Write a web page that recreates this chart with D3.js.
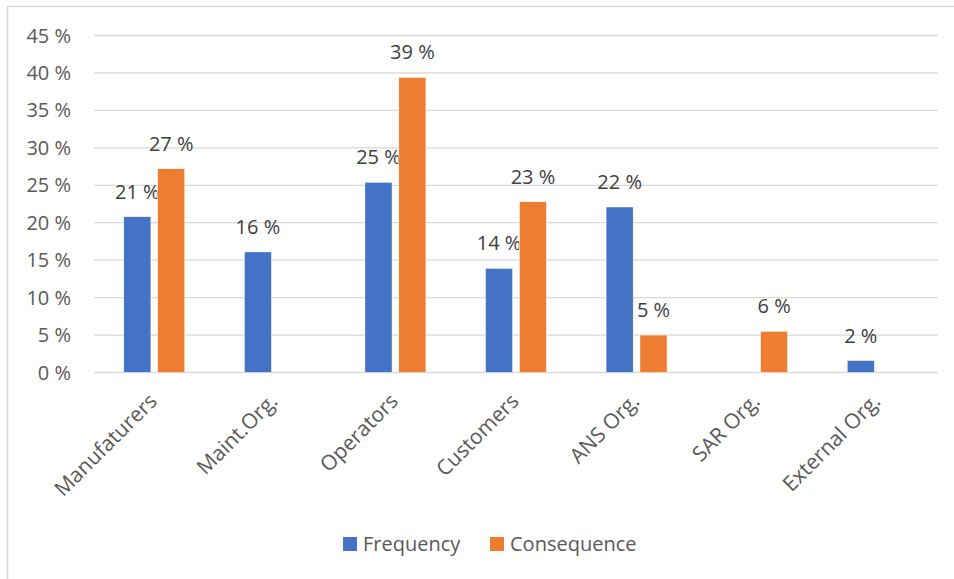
<!DOCTYPE html>
<html>
<head>
<meta charset="utf-8">
<script src="https://cdn.jsdelivr.net/npm/d3@7"></script>
<style>
  body { margin: 0; background: #fff; }
  svg text { font-family: "Open Sans", "Liberation Sans", sans-serif; }
</style>
</head>
<body>
<svg id="chart" width="954" height="579"></svg>
<script>
// data
const categories = ["Manufaturers", "Maint.Org.", "Operators", "Customers", "ANS Org.", "SAR Org.", "External Org."];
const seriesNames = ["Frequency", "Consequence"];
const frequency = [20.8, 16.1, 25.4, 13.9, 22.1, 0, 1.6];
const consequence = [27.2, 0, 39.4, 22.8, 5.0, 5.5, 0];
const yTicks = [0, 5, 10, 15, 20, 25, 30, 35, 40, 45];
const colors = ["#4472C4", "#ED7D31"];

const svg = d3.select("#chart");

// chart area frame
svg.append("rect")
  .attr("x", 7.5).attr("y", 6.5)
  .attr("width", 980).attr("height", 600)
  .attr("fill", "#fff").attr("stroke", "#d9d9d9").attr("stroke-width", 1.5);

const plot = { left: 94, right: 938, top: 35.5, bottom: 372.5 };

const x = d3.scaleBand().domain(categories).range([plot.left, plot.right]);
const y = d3.scaleLinear().domain([0, 45]).range([plot.bottom, plot.top]);
const xs = d3.scaleBand().domain(seriesNames).range([x.bandwidth() / 2 - 30.5, x.bandwidth() / 2 + 30.5]).paddingInner(0.2);

// gridlines
svg.append("g")
  .selectAll("line")
  .data(yTicks)
  .join("line")
  .attr("x1", plot.left).attr("x2", plot.right)
  .attr("y1", d => y(d)).attr("y2", d => y(d))
  .attr("stroke", "#d9d9d9").attr("stroke-width", 1.3);

// y tick labels
svg.append("g")
  .selectAll("text")
  .data(yTicks)
  .join("text")
  .attr("x", 71)
  .attr("y", d => y(d))
  .attr("dy", "0.35em")
  .attr("text-anchor", "end")
  .attr("font-size", 20)
  .attr("fill", "#595959")
  .text(d => d + " %");

const rows = categories.map((c, i) => ({ cat: c, values: [frequency[i], consequence[i]] }));

const groups = svg.append("g")
  .selectAll("g")
  .data(rows)
  .join("g")
  .attr("transform", d => `translate(${x(d.cat)},0)`);

const bars = groups.selectAll("g")
  .data(d => d.values.map((v, j) => ({ name: seriesNames[j], value: v, j })).filter(b => b.value > 0))
  .join("g");

bars.append("rect")
  .attr("x", d => xs(d.name))
  .attr("width", xs.bandwidth())
  .attr("y", d => y(d.value))
  .attr("height", d => y(0) - y(d.value))
  .attr("fill", d => colors[d.j])
  .attr("stroke", "#fff").attr("stroke-width", 0.5);

bars.append("text")
  .attr("x", d => xs(d.name) + xs.bandwidth() / 2)
  .attr("y", d => y(d.value) - 18)
  .attr("text-anchor", "middle")
  .attr("font-size", 20)
  .attr("fill", "#404040")
  .text(d => Math.round(d.value) + " %");

// category labels, rotated
svg.append("g")
  .selectAll("text")
  .data(categories)
  .join("text")
  .attr("transform", d => `translate(${x(d) + x.bandwidth() / 2 + 4},${plot.bottom + 30}) rotate(-45)`)
  .attr("text-anchor", "end")
  .attr("font-size", 21)
  .attr("fill", "#595959")
  .text(d => d);

// legend
const legend = svg.append("g")
  .selectAll("g")
  .data(seriesNames)
  .join("g")
  .attr("transform", (d, i) => `translate(${i === 0 ? 343 : 490},537)`);

legend.append("rect")
  .attr("width", 14).attr("height", 14)
  .attr("fill", (d, i) => colors[i]);

legend.append("text")
  .attr("x", 20).attr("y", 14)
  .attr("font-size", 20)
  .attr("fill", "#595959")
  .text(d => d);
</script>
</body>
</html>
